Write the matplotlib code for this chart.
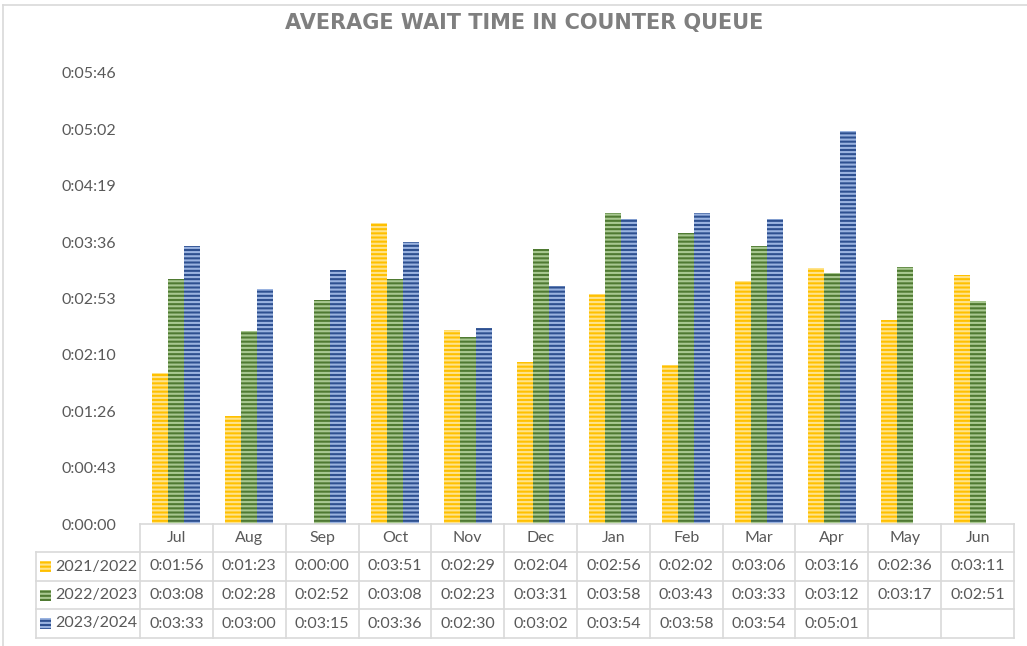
import numpy as np
import matplotlib
matplotlib.use('Agg')
import matplotlib.pyplot as plt
from matplotlib.patches import Rectangle
from matplotlib.lines import Line2D

# data (h:mm:ss)
months = ['Jul', 'Aug', 'Sep', 'Oct', 'Nov', 'Dec', 'Jan', 'Feb', 'Mar', 'Apr', 'May', 'Jun']
series = ['2021/2022', '2022/2023', '2023/2024']
fy2122 = ['0:01:56', '0:01:23', '0:00:00', '0:03:51', '0:02:29', '0:02:04',
          '0:02:56', '0:02:02', '0:03:06', '0:03:16', '0:02:36', '0:03:11']
fy2223 = ['0:03:08', '0:02:28', '0:02:52', '0:03:08', '0:02:23', '0:03:31',
          '0:03:58', '0:03:43', '0:03:33', '0:03:12', '0:03:17', '0:02:51']
fy2324 = ['0:03:33', '0:03:00', '0:03:15', '0:03:36', '0:02:30', '0:03:02',
          '0:03:54', '0:03:58', '0:03:54', '0:05:01', None, None]
all_values = [fy2122, fy2223, fy2324]

# bar colour + lighter stripe colour
face_colors = ['#FFC000', '#4F7A32', '#2E5090']
stripe_colors = ['#FFE38A', '#A8C890', '#9AB3E0']
text_color = '#595959'
grid_color = '#D9D9D9'


def to_seconds(s):
    if s is None:
        return np.nan
    h, m, sec = s.split(':')
    return int(h) * 3600 + int(m) * 60 + int(sec)


def fmt_time(v):
    v = int(round(v))
    return f'{v // 3600}:{(v % 3600) // 60:02d}:{v % 60:02d}'


plt.rcParams['font.family'] = ['Lato', 'DejaVu Sans']
plt.rcParams['hatch.linewidth'] = 1.5

W, H = 1027, 646
fig = plt.figure(figsize=(W / 100, H / 100), dpi=100)

# outer chart border (left/top)
fig.add_artist(Line2D([3 / W, 3 / W], [0, 1 - 5 / H], color=grid_color, lw=1.2))
fig.add_artist(Line2D([3 / W, 1], [1 - 5 / H, 1 - 5 / H], color=grid_color, lw=1.2))

ax_left, ax_right, ax_top, ax_bottom = 140, 1014, 73, 524
ax = fig.add_axes([ax_left / W, 1 - ax_bottom / H, (ax_right - ax_left) / W,
                   (ax_bottom - ax_top) / H])

x = np.arange(len(months))
bar_w = 0.22
for k, vals in enumerate(all_values):
    secs = [to_seconds(v) for v in vals]
    ax.bar(x + (k - 1) * bar_w, secs, width=bar_w, color=face_colors[k],
           edgecolor=stripe_colors[k], linewidth=0, hatch='----')

ax.set_xlim(-0.5, len(months) - 0.5)
ax.set_ylim(0, 345.6)
yticks = np.arange(9) * 43.2
ax.set_yticks(yticks)
ax.set_yticklabels([fmt_time(v) for v in yticks], color=text_color, fontsize=11.5)
ax.tick_params(axis='y', length=0, pad=17)
ax.set_xticks([])
for s in ax.spines.values():
    s.set_visible(False)

fig.text(524 / W, 1 - 23.5 / H,
         'AVERAGE WAIT TIME IN COUNTER QUEUE', ha='center', va='center',
         fontsize=15, fontweight='bold', color='#7F7F7F', family='DejaVu Sans')

# data table underneath
tab_left, tab_bottom = 36, 638
col_px = (ax_right - ax_left) / len(months)
xl = -0.5 - (ax_left - tab_left) / col_px
tax = fig.add_axes([tab_left / W, 1 - tab_bottom / H, (ax_right - tab_left) / W,
                    (tab_bottom - ax_bottom) / H])
tax.set_xlim(xl, len(months) - 0.5)
rows = [0, 28, 57, 85, 114]
tax.set_ylim(rows[-1], 0)
tax.axis('off')

lk = dict(color=grid_color, lw=1.2, clip_on=False)
tax.plot([-0.5, len(months) - 0.5], [rows[0], rows[0]], **lk)
for r in rows[1:]:
    tax.plot([xl, len(months) - 0.5], [r, r], **lk)
for c in range(len(months) + 1):
    tax.plot([c - 0.5, c - 0.5], [rows[0], rows[-1]], **lk)
tax.plot([xl, xl], [rows[1], rows[-1]], **lk)

for i, m in enumerate(months):
    tax.text(i, (rows[0] + rows[1]) / 2, m, ha='center', va='center',
             color=text_color, fontsize=11.5)
for k, (name, vals) in enumerate(zip(series, all_values)):
    yc = (rows[k + 1] + rows[k + 2]) / 2
    tax.add_patch(Rectangle((xl + 0.06, yc - 5.5), 0.15, 11, facecolor=face_colors[k],
                            edgecolor=stripe_colors[k], linewidth=0, hatch='----'))
    tax.text(xl + 0.27, yc, name, ha='left', va='center', color=text_color, fontsize=11.5)
    for i, v in enumerate(vals):
        if v is not None:
            tax.text(i, yc, v, ha='center', va='center', color=text_color, fontsize=11.5)

fig.savefig('out.png', dpi=100)
